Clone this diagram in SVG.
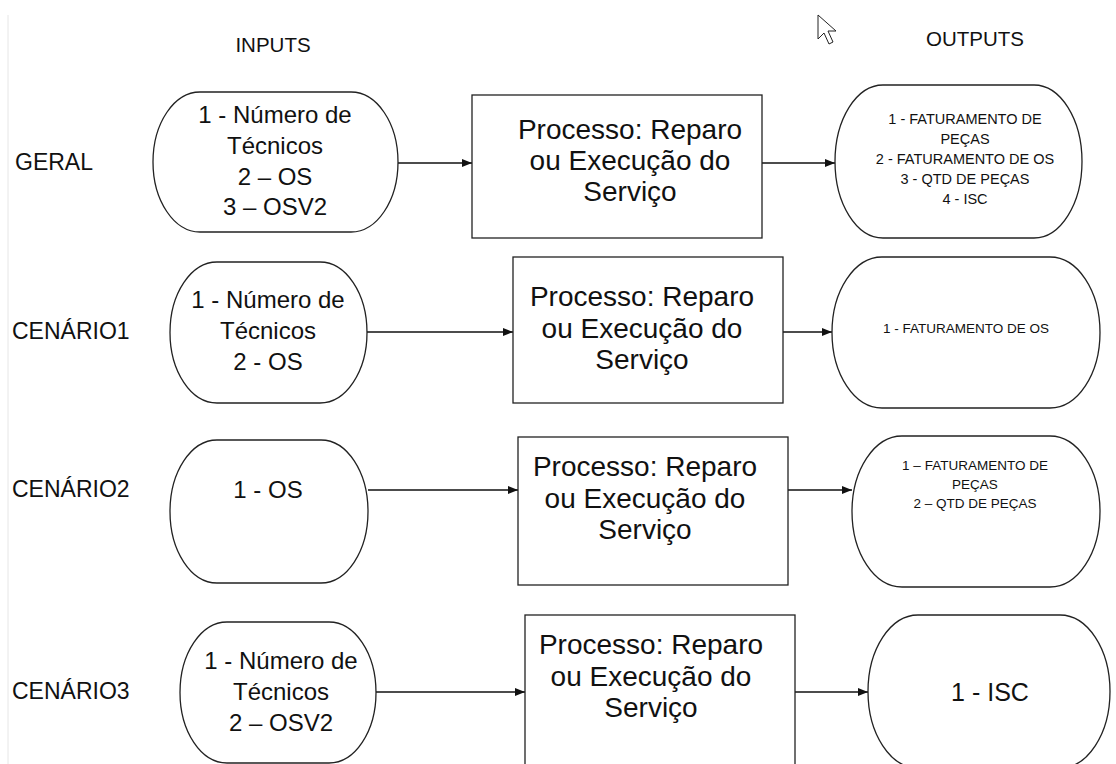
<svg xmlns="http://www.w3.org/2000/svg" width="1116" height="764" viewBox="0 0 1116 764">
<defs>
<style>
text{font-family:"Liberation Sans",Arial,sans-serif;fill:#111;text-anchor:middle}
.lbl{font-size:23px;text-anchor:start}
.hdr{font-size:20.5px}
.in{font-size:24px}
.pr{font-size:28px}
.o1{font-size:14.5px}
.o2{font-size:13.5px}
.o4{font-size:25px}
.shape{fill:#fff;stroke:#222;stroke-width:1.3}
.conn{stroke:#111;stroke-width:1.3;fill:none;marker-end:url(#ah)}
</style>
<marker id="ah" markerUnits="userSpaceOnUse" markerWidth="11" markerHeight="8" refX="10" refY="4" orient="auto">
<path d="M0,0 L10,4 L0,8 z" fill="#111"/>
</marker>
</defs>
<rect width="1116" height="764" fill="#fff"/>
<line x1="8" y1="15" x2="8" y2="764" stroke="#e6e6e6" stroke-width="1"/>
<path d="M818,15 L818,39 L824,33 L829,44 L833,42 L828,31 L836,31 Z" fill="#fff" stroke="#222" stroke-width="1"/>

<text class="hdr" x="273" y="52">INPUTS</text>
<text class="hdr" x="975" y="46">OUTPUTS</text>

<g id="label-geral"><text class="lbl" x="15" y="170">GERAL</text></g>
<g id="label-c1"><text class="lbl" x="12" y="339">CENÁRIO1</text></g>
<g id="label-c2"><text class="lbl" x="12" y="497">CENÁRIO2</text></g>
<g id="label-c3"><text class="lbl" x="12" y="699">CENÁRIO3</text></g>

<g id="connectors">
<line class="conn" x1="398" y1="163" x2="472" y2="163"/>
<line class="conn" x1="762" y1="163" x2="835" y2="163"/>
<line class="conn" x1="367" y1="332" x2="513" y2="332"/>
<line class="conn" x1="783" y1="332" x2="832" y2="332"/>
<line class="conn" x1="368" y1="490" x2="518" y2="490"/>
<line class="conn" x1="788" y1="490" x2="852" y2="490"/>
<line class="conn" x1="376" y1="692" x2="525" y2="692"/>
<line class="conn" x1="795" y1="692" x2="868" y2="692"/>
</g>

<g id="in-geral">
<rect class="shape" x="153" y="92" width="245" height="140" rx="47" ry="70"/>
<text class="in" x="275" y="123">1 - Número de</text>
<text class="in" x="275" y="154">Técnicos</text>
<text class="in" x="275" y="185">2 – OS</text>
<text class="in" x="275" y="215">3 – OSV2</text>
</g>
<g id="proc-geral">
<rect class="shape" x="472" y="95" width="290" height="143"/>
<text class="pr" x="630" y="139">Processo: Reparo</text>
<text class="pr" x="630" y="170">ou Execução do</text>
<text class="pr" x="630" y="201">Serviço</text>
</g>
<g id="out-geral">
<rect class="shape" x="835" y="85" width="247" height="153" rx="48" ry="76.5"/>
<text class="o1" x="965" y="124">1 - FATURAMENTO DE</text>
<text class="o1" x="965" y="144">PEÇAS</text>
<text class="o1" x="965" y="164">2 - FATURAMENTO DE OS</text>
<text class="o1" x="965" y="184">3 - QTD DE PEÇAS</text>
<text class="o1" x="965" y="204">4 - ISC</text>
</g>

<g id="in-c1">
<rect class="shape" x="170" y="262" width="197" height="141" rx="47" ry="70.5"/>
<text class="in" x="268" y="308">1 - Número de</text>
<text class="in" x="268" y="339">Técnicos</text>
<text class="in" x="268" y="370">2 - OS</text>
</g>
<g id="proc-c1">
<rect class="shape" x="513" y="257" width="270" height="146"/>
<text class="pr" x="642" y="306">Processo: Reparo</text>
<text class="pr" x="642" y="337.5">ou Execução do</text>
<text class="pr" x="642" y="369">Serviço</text>
</g>
<g id="out-c1">
<rect class="shape" x="832" y="257" width="268" height="151" rx="50" ry="75.5"/>
<text class="o2" x="966" y="333">1 - FATURAMENTO DE OS</text>
</g>

<g id="in-c2">
<rect class="shape" x="170" y="440" width="198" height="143" rx="47" ry="71.5"/>
<text class="in" x="268" y="498">1 - OS</text>
</g>
<g id="proc-c2">
<rect class="shape" x="518" y="437" width="270" height="148"/>
<text class="pr" x="645" y="476">Processo: Reparo</text>
<text class="pr" x="645" y="507.5">ou Execução do</text>
<text class="pr" x="645" y="539">Serviço</text>
</g>
<g id="out-c2">
<rect class="shape" x="852" y="436" width="248" height="151" rx="50" ry="75.5"/>
<text class="o2" x="975" y="470">1 – FATURAMENTO DE</text>
<text class="o2" x="975" y="489">PEÇAS</text>
<text class="o2" x="975" y="508">2 – QTD DE PEÇAS</text>
</g>

<g id="in-c3">
<rect class="shape" x="180" y="622" width="196" height="141" rx="47" ry="70.5"/>
<text class="in" x="281" y="669">1 - Número de</text>
<text class="in" x="281" y="700">Técnicos</text>
<text class="in" x="281" y="731">2 – OSV2</text>
</g>
<g id="proc-c3">
<rect class="shape" x="525" y="615" width="270" height="160"/>
<text class="pr" x="651" y="654">Processo: Reparo</text>
<text class="pr" x="651" y="685.5">ou Execução do</text>
<text class="pr" x="651" y="717">Serviço</text>
</g>
<g id="out-c3">
<rect class="shape" x="868" y="615" width="242" height="153" rx="50" ry="76.5"/>
<text class="o4" x="990" y="701">1 - ISC</text>
</g>
</svg>
